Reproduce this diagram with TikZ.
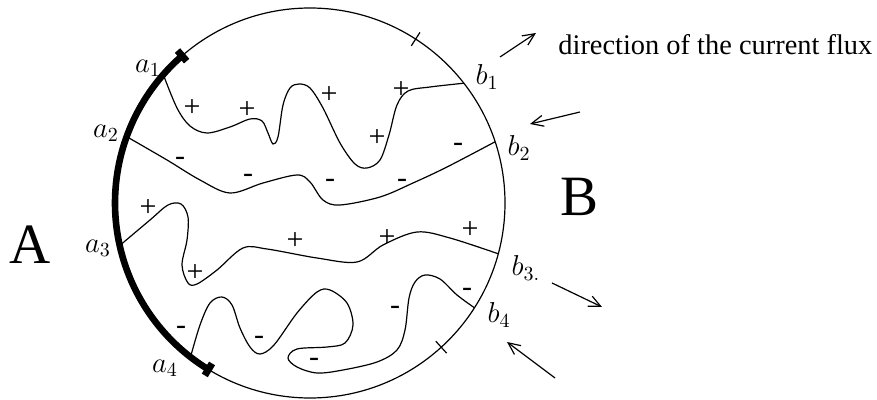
\documentclass[tikz,border=0pt]{standalone}
\usepackage{fontspec}
\setmainfont{Liberation Serif}
\usetikzlibrary{arrows.meta}

\tikzset{
  wire/.style={line width=0.6pt},
  sign/.style={inner sep=0pt, font=\fontsize{15}{17}\selectfont},
  lbl/.style={inner sep=0pt, font=\fontsize{14.4}{16}\selectfont},
  big/.style={inner sep=0pt, font=\fontsize{28.5}{30}\selectfont},
  flux/.style={line width=0.6pt, -{Straight Barb[length=6pt,width=5.5pt]}},
}

\begin{document}
\begin{tikzpicture}[x=0.5pt,y=-0.5pt]
\useasboundingbox (0,0) rectangle (877,400);
\coordinate (o) at (310,203);
\draw[wire] (o) circle[radius=195];

% contact A
\draw[line width=3.3pt] (o) ++(121.4:195) arc[start angle=121.4, end angle=229, radius=195];
\draw[line width=3.5pt] (o) ++(121.4:188) -- ++(121.4:14);
\draw[line width=3.5pt] (o) ++(229:188) -- ++(229:14);
\draw[wire] (o) ++(-57.2:187) -- ++(-57.2:16);
\draw[wire] (o) ++(47.7:187) -- ++(47.7:16);

\foreach \n/\ang in {a1/221.2, a2/199.9, a3/167.4, a4/127.8,
                     b1/-37.9, b2/-18.3, b3/15.1, b4/32.5}
  \path (o) ++(\ang:195) coordinate (\n);

% current lines
\draw[wire] plot[smooth, tension=0.55] coordinates {(a1) (177,108) (190,126) (207,133)
  (230,127) (250,119) (262,121) (268,133) (273,144) (278,137) (283,105) (290,88)
  (299,84) (310,88) (323,108) (340,143) (355,164) (367,168) (380,160) (389,135)
  (397,105) (408,91) (430,87) (b1)};
\draw[wire] plot[smooth, tension=0.55] coordinates {(a2) (167,160) (200,180) (230,193)
  (263,183) (297,175) (310,182) (323,200) (340,205) (380,197) (413,183) (447,167) (b2)};
\draw[wire] plot[smooth, tension=0.55] coordinates {(a3) (150,220) (168,205) (181,204)
  (188,217) (187,240) (182,265) (188,283) (197,284) (217,270) (243,248) (267,249)
  (317,258) (357,262) (383,245) (417,232) (450,238) (b3)};
\draw[wire] plot[smooth, tension=0.55] coordinates {(a4) (200,325) (210,303) (222,297)
  (232,305) (240,328) (250,347) (260,354) (274,345) (297,313) (317,292) (330,290)
  (347,303) (353,325) (345,343) (327,347) (297,349) (288,358) (297,367) (317,373)
  (343,370) (377,362) (397,350) (405,330) (409,298) (415,282) (425,275) (440,279)
  (457,295) (b4)};

\foreach \p [count=\i] in {(192,108), (247,110), (329,95), (401,90), (377,138),
                          (148,208), (195,273), (295,241), (387,238), (470,230)}
  \node[sign] (plus\i) at \p {+};
\foreach \p [count=\i] in {(180,161), (248,178), (330,183), (402,183), (458,147),
                          (181,330), (259,340), (314,362), (395,310), (467,292)}
  \node[sign] (minus\i) at \p {-};

\node[lbl] (la1) at (148,68) {$a_1$};
\node[lbl] (la2) at (106,133) {$a_2$};
\node[lbl] (la3) at (98,248) {$a_3$};
\node[lbl] (la4) at (165,368) {$a_4$};
\node[lbl] (lb1) at (487,77) {$b_1$};
\node[lbl] (lb2) at (519,148) {$b_2$};
\node[lbl] (lb3) at (526,268) {$b_{3.}$};
\node[lbl] (lb4) at (499,315) {$b_4$};

\node[big] (A) at (30,245) {A};
\node[big] (B) at (579,197) {B};

\coordinate (f1) at (500,57);  \coordinate (g1) at (536,33);
\coordinate (f2) at (580,112); \coordinate (g2) at (530,124);
\coordinate (f3) at (552,283); \coordinate (g3) at (602,307);
\coordinate (f4) at (555,378); \coordinate (g4) at (507,342);
\draw[flux] (f1) -- (g1);
\draw[flux] (f2) -- (g2);
\draw[flux] (f3) -- (g3);
\draw[flux] (f4) -- (g4);
\node[anchor=base west, inner sep=0pt, font=\fontsize{14.2}{16}\selectfont] (dir) at (558,55)
  {direction of the current flux};
\end{tikzpicture}
\end{document}
